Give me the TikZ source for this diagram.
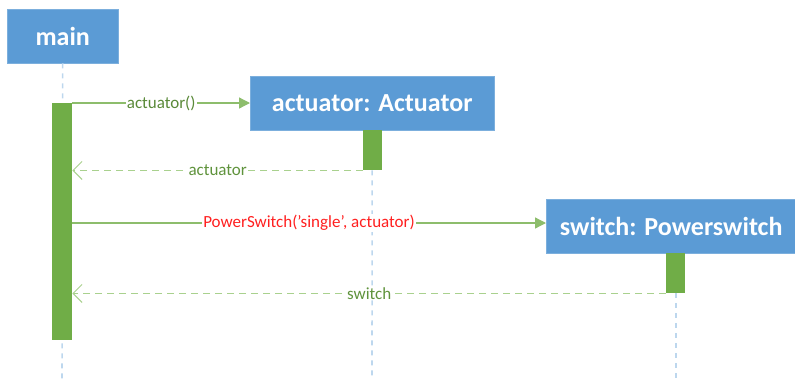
\documentclass[tikz,border=0pt]{standalone}
\usepackage{fontspec}
\setmainfont{Carlito}
\usetikzlibrary{arrows.meta}
\definecolor{boxblue}{HTML}{5B9BD5}
\definecolor{actgreen}{HTML}{70AD47}
\definecolor{retgreen}{HTML}{A9D18E}
\definecolor{lifeblue}{HTML}{BDD7EE}
\definecolor{msgred}{HTML}{FF2020}
\tikzset{
  obj/.style={draw=boxblue!80!white, fill=boxblue, text=white, font=\fontsize{26}{28}\selectfont\bfseries, inner sep=0pt, anchor=north west},
  act/.style={fill=actgreen, draw=none, inner sep=0pt, anchor=north west},
  life/.style={draw=lifeblue, line width=1.6pt, dash pattern=on 5pt off 5pt},
  call/.style={draw=actgreen!80!white, line width=1.3pt, -{Triangle[length=11pt,width=11pt]}},
  ret/.style={draw=retgreen, line width=1.4pt, dash pattern=on 7pt off 5pt, -{Straight Barb[length=9pt,width=18pt,line width=1pt]}},
  lbl/.style={fill=white, inner sep=1pt, font=\fontsize{17}{19}\selectfont}
}
\begin{document}
\begin{tikzpicture}[x=1pt,y=-1pt]
\useasboundingbox (0,0) rectangle (795,383);
% objects
\node[obj, minimum width=111pt, minimum height=54pt] (main) at (7,9) {main};
\node[obj, minimum width=244pt, minimum height=54pt] (actobj) at (250,76) {actuator: Actuator};
\node[obj, minimum width=250pt, minimum height=54pt] (swobj) at (546,199) {switch: Powerswitch};
% lifelines
\coordinate (mainend) at (62,383);
\coordinate (actend) at (372,378);
\coordinate (swend) at (676,378);
\draw[life] (main.south) -- (mainend);
\draw[life] (actobj.south) -- (actend);
\draw[life] (swobj.south -| swend) -- (swend);
% activations
\node[act, minimum width=20pt, minimum height=237pt] (mainact) at (52,103) {};
\node[act, minimum width=19pt, minimum height=40pt] (actact) at (363,130) {};
\node[act, minimum width=19pt, minimum height=40pt] (swact) at (666,253) {};
% messages
\draw[call] (mainact.north east) -- node[lbl, text=actgreen!80!black, pos=0.5] {actuator()} (actobj.west |- mainact.north east);
\draw[ret] (actact.south west) -- node[lbl, text=actgreen!85!black, pos=0.5] {actuator} (mainact.east |- actact.south west);
\coordinate (c3) at (72,223);
\draw[call] (c3) -- node[lbl, text=msgred, pos=0.5] {PowerSwitch('single', actuator)} (swobj.west |- c3);
\draw[ret] (swact.south west) -- node[lbl, text=actgreen!85!black, pos=0.5] {switch} (mainact.east |- swact.south west);
\end{tikzpicture}
\end{document}
